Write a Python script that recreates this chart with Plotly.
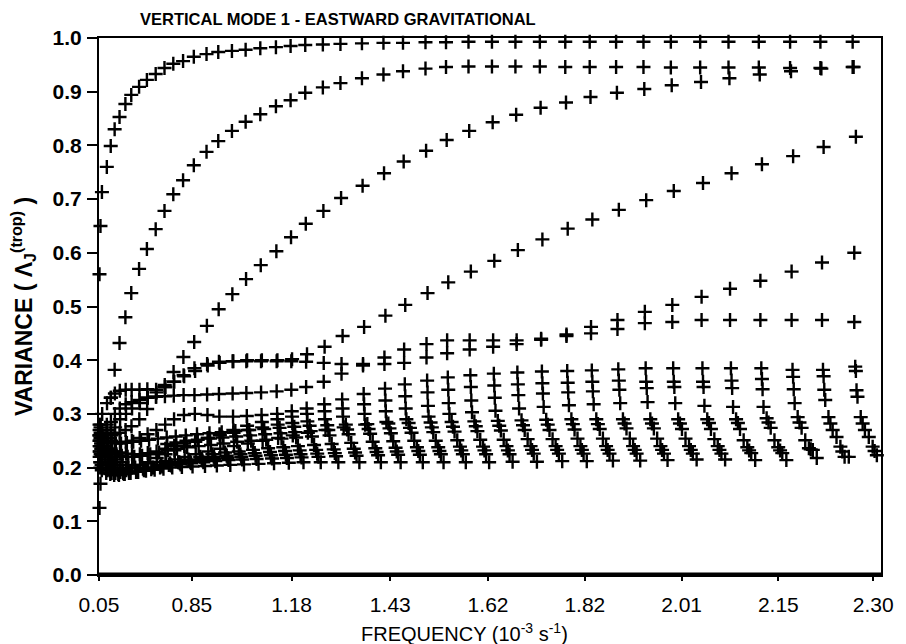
import plotly.graph_objects as go

# ---------------- data ----------------
tick_labels = ["0.05", "0.85", "1.18", "1.43", "1.62", "1.82", "2.01", "2.15", "2.30"]
tick_pos = [0, 0.95, 1.97, 2.98, 3.98, 4.97, 5.96, 6.95, 7.92]

# column positions (axis units, 0..8)
col_u = [0.005, 0.015, 0.03, 0.08, 0.12, 0.16, 0.21, 0.27, 0.33, 0.41, 0.49, 0.58, 0.67, 0.76, 0.86,
         0.97, 1.10, 1.22, 1.36, 1.50, 1.65, 1.81, 1.96, 2.11, 2.29, 2.47, 2.69, 2.91, 3.11, 3.34,
         3.55, 3.78, 4.02, 4.26, 4.51, 4.77, 5.02, 5.29, 5.57, 5.85, 6.15, 6.44, 6.75, 7.07, 7.38, 7.71]

mode_A = [0.56, 0.65, 0.713, 0.760, 0.799, 0.830, 0.853, 0.877, 0.894, 0.909, 0.922, 0.933, 0.944, 0.952, 0.957,
          0.965, 0.970, 0.974, 0.976, 0.978, 0.981, 0.983, 0.985, 0.987, 0.988, 0.989, 0.990, 0.991, 0.991, 0.992,
          0.992, 0.993, 0.993, 0.993, 0.993, 0.993, 0.993, 0.993, 0.993, 0.993, 0.993, 0.993, 0.993, 0.993, 0.993, 0.993]
mode_B = [0.125, 0.17, 0.223, 0.28, 0.33, 0.382, 0.432, 0.48, 0.525, 0.57, 0.607, 0.644, 0.678, 0.709, 0.735,
          0.763, 0.788, 0.808, 0.827, 0.844, 0.858, 0.873, 0.884, 0.898, 0.908, 0.916, 0.925, 0.932, 0.938, 0.943,
          0.946, 0.947, 0.947, 0.947, 0.947, 0.946, 0.946, 0.946, 0.946, 0.945, 0.945, 0.945, 0.945, 0.944, 0.944, 0.946]
mode_C = [0.28, 0.275, 0.27, 0.265, 0.262, 0.262, 0.265, 0.27, 0.277, 0.29, 0.309, 0.332, 0.354, 0.378, 0.406,
          0.434, 0.464, 0.495, 0.523, 0.551, 0.577, 0.603, 0.629, 0.654, 0.678, 0.702, 0.725, 0.748, 0.77, 0.79,
          0.81, 0.827, 0.843, 0.857, 0.87, 0.88, 0.89, 0.898, 0.905, 0.912, 0.918, 0.925, 0.932, 0.938, 0.943, 0.946]
mode_D = [0.26, 0.25, 0.245, 0.25, 0.26, 0.275, 0.29, 0.30, 0.31, 0.32, 0.33, 0.34, 0.35, 0.36, 0.37,
          0.38, 0.39, 0.395, 0.398, 0.40, 0.40, 0.40, 0.402, 0.411, 0.425, 0.445, 0.462, 0.483, 0.503, 0.525,
          0.545, 0.565, 0.585, 0.605, 0.625, 0.645, 0.662, 0.68, 0.698, 0.715, 0.73, 0.748, 0.765, 0.78, 0.797, 0.816]
mode_E = [0.25, 0.255, 0.26, 0.27, 0.285, 0.30, 0.31, 0.318, 0.322, 0.326, 0.33, 0.332, 0.333, 0.334, 0.335,
          0.335, 0.336, 0.337, 0.338, 0.339, 0.34, 0.342, 0.345, 0.35, 0.36, 0.375, 0.39, 0.405, 0.42, 0.43,
          0.437, 0.437, 0.437, 0.437, 0.44, 0.448, 0.462, 0.475, 0.49, 0.503, 0.518, 0.533, 0.548, 0.565, 0.582, 0.60]
mode_F = [0.26, 0.28, 0.30, 0.32, 0.33, 0.338, 0.343, 0.345, 0.345, 0.345, 0.346, 0.345, 0.35, 0.36, 0.372,
          0.385, 0.393, 0.397, 0.398, 0.398, 0.398, 0.398, 0.398, 0.397, 0.395, 0.393, 0.393, 0.393, 0.395, 0.405,
          0.413, 0.42, 0.425, 0.43, 0.438, 0.445, 0.45, 0.458, 0.469, 0.471, 0.475, 0.475, 0.475, 0.475, 0.475, 0.471]
mode_G = [0.27, 0.265, 0.26, 0.255, 0.25, 0.248, 0.247, 0.248, 0.25, 0.255, 0.262, 0.27, 0.28, 0.29, 0.298,
          0.30, 0.298, 0.295, 0.295, 0.296, 0.298, 0.30, 0.305, 0.31, 0.318, 0.327, 0.337, 0.347, 0.355, 0.362,
          0.368, 0.372, 0.375, 0.377, 0.379, 0.38, 0.381, 0.383, 0.385, 0.385, 0.385, 0.385, 0.385, 0.382, 0.382, 0.388]
mode_H = [0.24, 0.24, 0.238, 0.235, 0.232, 0.23, 0.228, 0.226, 0.225, 0.225, 0.227, 0.23, 0.235, 0.24, 0.245,
          0.25, 0.255, 0.262, 0.27, 0.278, 0.285, 0.29, 0.295, 0.30, 0.305, 0.31, 0.318, 0.325, 0.333, 0.34,
          0.345, 0.35, 0.353, 0.355, 0.357, 0.358, 0.36, 0.362, 0.36, 0.36, 0.36, 0.362, 0.365, 0.369, 0.37, 0.38]
mode_I = [0.23, 0.225, 0.22, 0.215, 0.21, 0.205, 0.20, 0.198, 0.20, 0.205, 0.21, 0.218, 0.225, 0.232, 0.24,
          0.248, 0.255, 0.26, 0.265, 0.27, 0.275, 0.28, 0.283, 0.286, 0.29, 0.295, 0.30, 0.305, 0.31, 0.315,
          0.32, 0.325, 0.33, 0.335, 0.338, 0.34, 0.342, 0.345, 0.348, 0.35, 0.35, 0.348, 0.346, 0.346, 0.345, 0.344]
mode_J = [0.22, 0.21, 0.20, 0.195, 0.19, 0.19, 0.192, 0.195, 0.20, 0.205, 0.208, 0.21, 0.212, 0.215, 0.22,
          0.225, 0.23, 0.235, 0.24, 0.245, 0.25, 0.255, 0.26, 0.265, 0.27, 0.275, 0.28, 0.285, 0.29, 0.295,
          0.30, 0.303, 0.306, 0.31, 0.313, 0.316, 0.318, 0.32, 0.322, 0.32, 0.315, 0.313, 0.313, 0.32, 0.326, 0.332]
mode_K1 = [0.26, 0.255, 0.25, 0.248, 0.246, 0.245, 0.245, 0.246, 0.248, 0.25, 0.252, 0.254, 0.256, 0.258, 0.26,
           0.262, 0.264, 0.266, 0.268, 0.27, 0.272, 0.274, 0.276, 0.278, 0.279, 0.28, 0.281, 0.282, 0.283, 0.284,
           0.285, 0.286, 0.287, 0.288, 0.289, 0.29, 0.29, 0.29, 0.29, 0.29, 0.29, 0.29, 0.292, 0.294, 0.294, 0.294]
mode_K2 = [0.25, 0.245, 0.24, 0.235, 0.23, 0.225, 0.222, 0.22, 0.22, 0.222, 0.225, 0.228, 0.232, 0.235, 0.238,
           0.24, 0.242, 0.245, 0.248, 0.25, 0.252, 0.254, 0.256, 0.258, 0.26, 0.262, 0.263, 0.264, 0.265, 0.266,
           0.267, 0.268, 0.269, 0.27, 0.27, 0.271, 0.272, 0.273, 0.273, 0.272, 0.272, 0.272, 0.274, 0.274, 0.27, 0.27]
mode_K3 = [0.24, 0.235, 0.23, 0.225, 0.22, 0.215, 0.21, 0.205, 0.20, 0.198, 0.197, 0.20, 0.205, 0.21, 0.215,
           0.22, 0.225, 0.228, 0.23, 0.233, 0.236, 0.238, 0.24, 0.242, 0.244, 0.246, 0.248, 0.249, 0.25, 0.25,
           0.251, 0.252, 0.252, 0.253, 0.253, 0.254, 0.254, 0.254, 0.254, 0.254, 0.253, 0.251, 0.251, 0.251, 0.257, 0.257]
mode_K4 = [0.23, 0.225, 0.22, 0.21, 0.20, 0.195, 0.19, 0.19, 0.192, 0.195, 0.20, 0.205, 0.208, 0.21, 0.213,
           0.216, 0.22, 0.222, 0.225, 0.227, 0.229, 0.231, 0.232, 0.233, 0.234, 0.235, 0.236, 0.237, 0.238, 0.238,
           0.239, 0.239, 0.24, 0.24, 0.24, 0.24, 0.24, 0.24, 0.24, 0.24, 0.24, 0.238, 0.238, 0.236, 0.239, 0.239]
mode_K5 = [0.21, 0.205, 0.20, 0.195, 0.19, 0.188, 0.188, 0.19, 0.193, 0.196, 0.20, 0.202, 0.204, 0.206, 0.208,
           0.21, 0.212, 0.214, 0.215, 0.216, 0.217, 0.218, 0.219, 0.22, 0.221, 0.222, 0.223, 0.224, 0.224, 0.225,
           0.225, 0.225, 0.225, 0.226, 0.226, 0.226, 0.226, 0.226, 0.226, 0.226, 0.226, 0.227, 0.227, 0.233, 0.22, 0.223]
mode_K6 = [0.20, 0.195, 0.19, 0.188, 0.186, 0.186, 0.188, 0.19, 0.192, 0.194, 0.196, 0.198, 0.20, 0.201, 0.202,
           0.203, 0.204, 0.205, 0.206, 0.207, 0.208, 0.209, 0.21, 0.21, 0.21, 0.21, 0.21, 0.21, 0.21, 0.21,
           0.21, 0.21, 0.211, 0.211, 0.212, 0.212, 0.213, 0.213, 0.214, 0.215, 0.215, 0.214, 0.214, 0.218, 0.22, 0.208]
mode_K7 = [None] * 12 + [
           0.244, 0.247, 0.25, 0.252, 0.254, 0.256, 0.258, 0.26, 0.262, 0.264, 0.266, 0.268, 0.27, 0.271,
           0.272, 0.273, 0.274, 0.275, 0.276, 0.277, 0.278, 0.279, 0.28, 0.281, 0.281, 0.282, 0.282, 0.282,
           0.283, 0.283, 0.284, 0.284, 0.282, 0.282]
mode_K8 = [None] * 12 + [
           0.206, 0.208, 0.21, 0.213, 0.216, 0.218, 0.22, 0.222, 0.223, 0.224, 0.225, 0.226, 0.227, 0.228,
           0.229, 0.23, 0.231, 0.231, 0.232, 0.232, 0.232, 0.233, 0.233, 0.233, 0.233, 0.233, 0.233, 0.233,
           0.233, 0.232, 0.232, 0.234, 0.23, 0.231]

# fraction of the local column gap by which each mode sits to the right of its column
modes = [
    (mode_A, 0.0), (mode_B, 0.0), (mode_C, 0.03), (mode_D, 0.1), (mode_E, 0.05), (mode_F, 0.05),
    (mode_G, 0.08), (mode_H, 0.1), (mode_I, 0.12), (mode_J, 0.15),
    (mode_K1, 0.25), (mode_K7, 0.31), (mode_K2, 0.38), (mode_K3, 0.5), (mode_K4, 0.62),
    (mode_K8, 0.68), (mode_K5, 0.75), (mode_K6, 0.88),
]

FONT = "Liberation Sans"

# ---------------- figure ----------------
fig = go.Figure()
for vals, frac in modes:
    xs = []
    for i in range(len(col_u)):
        gap = (col_u[i + 1] - col_u[i]) if i + 1 < len(col_u) else (col_u[i] - col_u[i - 1])
        xs.append(col_u[i] + frac * gap)
    fig.add_trace(go.Scatter(
        x=xs, y=vals, mode="markers", cliponaxis=False, showlegend=False,
        marker=dict(symbol="cross-thin", size=10, color="black",
                    line=dict(width=2.4, color="black")),
    ))

fig.add_shape(type="line", xref="x", yref="y", x0=0, x1=8, y0=0, y1=0,
              line=dict(color="black", width=5), layer="above")

fig.update_layout(
    width=906, height=644,
    margin=dict(l=99, r=18, t=38, b=69),
    paper_bgcolor="white", plot_bgcolor="white",
    title=dict(text="<b>VERTICAL MODE 1 - EASTWARD GRAVITATIONAL</b>",
               x=140 / 906, xanchor="left", xref="container",
               y=1 - 19 / 644, yanchor="middle", yref="container",
               font=dict(family=FONT, size=16.5, color="black")),
    xaxis=dict(range=[0, 8], tickvals=tick_pos, ticktext=tick_labels,
               showgrid=False, zeroline=False, showline=True, linecolor="black",
               linewidth=2, mirror=True, ticks="outside", ticklen=4, tickwidth=1.5,
               tickcolor="black", ticklabelstandoff=6, ticklabeloverflow="allow",
               tickfont=dict(family=FONT, size=21, color="black")),
    yaxis=dict(range=[0, 1], tickvals=[i / 10 for i in range(11)],
               tickformat=".1f", showgrid=False, zeroline=False, showline=True,
               linecolor="black", linewidth=2, mirror=True, ticks="outside",
               ticklen=10, tickwidth=2, tickcolor="black", ticklabelstandoff=1,
               tickfont=dict(family=FONT, size=21, color="black", weight="bold"),
               title=dict(text="<b>VARIANCE ( Λ<sub>J</sub><sup>(trop)</sup> )</b>",
                          font=dict(family=FONT, size=23, color="black"),
                          standoff=14)),
)
fig.add_annotation(text="FREQUENCY (10<sup>-3</sup> s<sup>-1</sup>)", xref="paper", yref="paper",
                   x=(468 - 99) / 789, y=-(632 - 575) / 537, xanchor="center", yanchor="middle",
                   showarrow=False, font=dict(family=FONT, size=20, color="black"))

fig.write_html("out.html")
